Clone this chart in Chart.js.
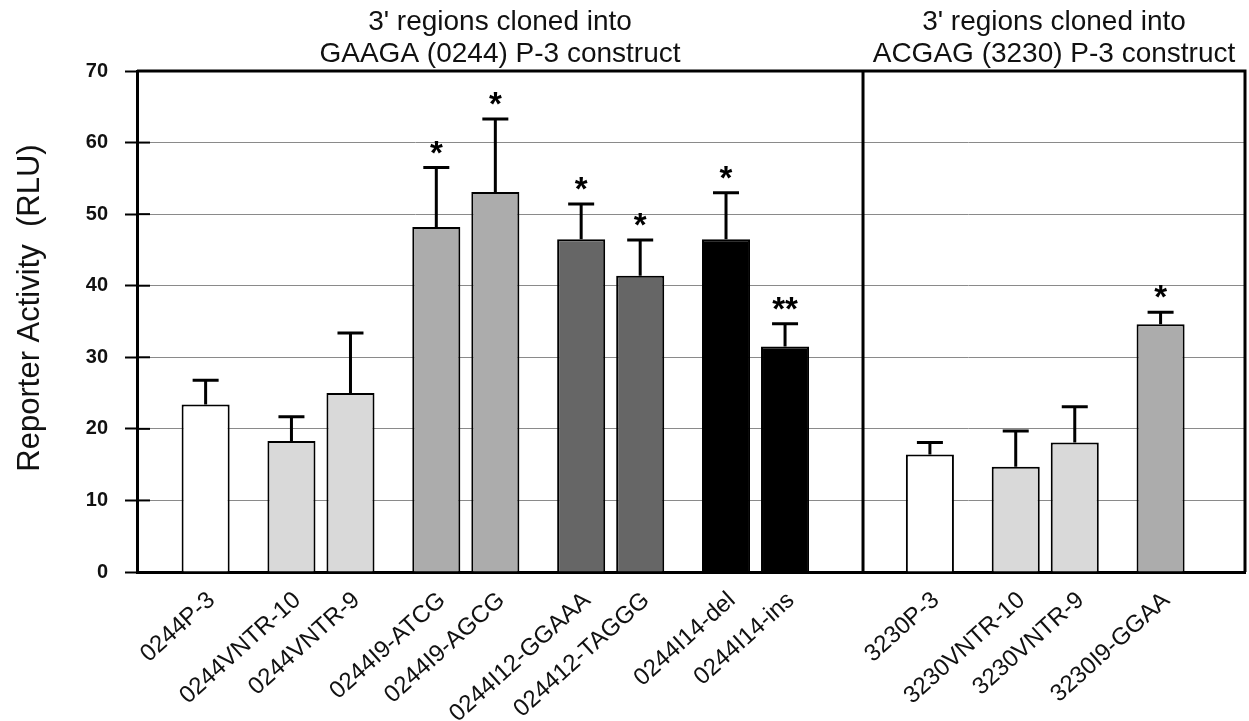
<!DOCTYPE html>
<html>
<head>
<meta charset="utf-8">
<script src="https://cdn.jsdelivr.net/npm/chart.js@4.4.0/dist/chart.umd.min.js"></script>
<style>
  html, body { margin: 0; padding: 0; background: #fff; }
</style>
</head>
<body>
<canvas id="reporterCanvas" width="1249" height="721"></canvas>
<script>
// constructs in the order they are drawn
var constructs = ['0244P-3', '0244VNTR-10', '0244VNTR-9', '0244I9-ATCG', '0244I9-AGCG',
  '0244I12-GGAAA', '024412-TAGGG', '0244I14-del', '0244I14-ins',
  '3230P-3', '3230VNTR-10', '3230VNTR-9', '3230I9-GGAA'];
var activity = [23.4, 18.3, 25.0, 48.2, 53.1, 46.5, 41.4, 46.5, 31.5, 16.4, 14.7, 18.1, 34.6];
var errUp = [3.4, 3.4, 8.4, 8.3, 10.2, 4.9, 5.0, 6.5, 3.2, 1.7, 5.0, 5.0, 1.7];
var signif = ['', '', '', '*', '*', '*', '*', '*', '**', '', '', '', '*'];
// pair of slots each bar belongs to, and left (0) / right (1) slot of that pair
var pairOf = [0, 1, 1, 2, 2, 3, 3, 4, 4, 5, 6, 6, 7];
var slotOf = [1, 0, 1, 0, 1, 0, 1, 0, 1, 1, 0, 1, 0];
var panelTitles = [
  ["3' regions cloned into", 'GAAGA (0244) P-3 construct'],
  ["3' regions cloned into", 'ACGAG (3230) P-3 construct']
];

var fills = ['#ffffff', '#d9d9d9', '#d9d9d9', '#acacac', '#acacac', '#666666', '#666666',
  '#000000', '#000000', '#ffffff', '#d9d9d9', '#d9d9d9', '#acacac'];
var FONT = 'Arial, "Liberation Sans", sans-serif';
var nPairs = 8;
var dividerAt = 4.742;

var datasets = [0, 1].map(function (s) {
  var data = [], bg = [], idx = [];
  for (var p = 0; p < nPairs; p++) {
    data.push({ x: p, y: null });
    bg.push('rgba(0,0,0,0)');
    idx.push(-1);
  }
  constructs.forEach(function (name, i) {
    if (slotOf[i] !== s) return;
    data[pairOf[i]] = { x: pairOf[i], y: activity[i] };
    bg[pairOf[i]] = fills[i];
    idx[pairOf[i]] = i;
  });
  return {
    data: data,
    barIdx: idx,
    backgroundColor: bg,
    borderColor: '#000',
    borderWidth: 2,
    categoryPercentage: 0.815,
    barPercentage: 0.814
  };
});

var decorPlugin = {
  id: 'decor',
  afterDatasetsDraw: function (chart) {
    var ctx = chart.ctx, area = chart.chartArea;
    var xs = chart.scales.x, ys = chart.scales.y;
    var divX = xs.getPixelForValue(dividerAt);
    ctx.save();
    // frame top / right and panel divider
    ctx.strokeStyle = '#000';
    ctx.lineWidth = 3;
    ctx.beginPath();
    ctx.moveTo(area.left, area.top);
    ctx.lineTo(area.right, area.top);
    ctx.lineTo(area.right, area.bottom);
    ctx.moveTo(divX, area.top);
    ctx.lineTo(divX, area.bottom);
    ctx.stroke();

    // inner part of the y tick marks
    ctx.lineWidth = 2;
    ys.ticks.forEach(function (t) {
      if (t.value === 0 || t.value === 70) return;
      var y = ys.getPixelForValue(t.value);
      ctx.beginPath();
      ctx.moveTo(area.left, y);
      ctx.lineTo(area.left + 13, y);
      ctx.stroke();
    });

    chart.data.datasets.forEach(function (ds, di) {
      var meta = chart.getDatasetMeta(di);
      meta.data.forEach(function (bar, p) {
        var i = ds.barIdx[p];
        if (i < 0) return;
        var topY = ys.getPixelForValue(activity[i] + errUp[i]);
        // error bar (upper only)
        ctx.strokeStyle = '#000';
        ctx.lineWidth = 3;
        ctx.beginPath();
        ctx.moveTo(bar.x, bar.y);
        ctx.lineTo(bar.x, topY);
        ctx.moveTo(bar.x - 13, topY);
        ctx.lineTo(bar.x + 13, topY);
        ctx.stroke();
        // significance marks
        if (signif[i]) {
          ctx.fillStyle = '#000';
          ctx.font = 'bold 33px ' + FONT;
          ctx.textAlign = 'center';
          ctx.textBaseline = 'alphabetic';
          ctx.fillText(signif[i], bar.x, topY - 4);
        }
        // rotated category label
        ctx.save();
        ctx.translate(bar.x + 6, area.bottom + 25);
        ctx.rotate(-42 * Math.PI / 180);
        ctx.fillStyle = '#111';
        ctx.font = '24px ' + FONT;
        ctx.textAlign = 'right';
        ctx.textBaseline = 'middle';
        ctx.fillText(constructs[i], 0, 0);
        ctx.restore();
      });
    });

    // panel titles
    ctx.fillStyle = '#111';
    ctx.font = '28px ' + FONT;
    ctx.textAlign = 'center';
    ctx.textBaseline = 'alphabetic';
    var centers = [(area.left + divX) / 2, (divX + area.right) / 2];
    panelTitles.forEach(function (lines, k) {
      ctx.fillText(lines[0], centers[k], 30);
      ctx.fillText(lines[1], centers[k], 62);
    });

    // y axis title
    ctx.save();
    ctx.translate(30, 308);
    ctx.rotate(-Math.PI / 2);
    ctx.font = '31px ' + FONT;
    ctx.textBaseline = 'middle';
    ctx.fillText('Reporter Activity  (RLU)', 0, 0);
    ctx.restore();
    ctx.restore();
  }
};

var ctx = document.getElementById('reporterCanvas').getContext('2d');
var reporterChart = new Chart(ctx, {
  type: 'bar',
  data: { datasets: datasets },
  options: {
    responsive: false,
    animation: false,
    devicePixelRatio: 1,
    layout: { padding: { top: 71, right: 4, left: 0, bottom: 0 } },
    plugins: { legend: { display: false }, tooltip: { enabled: false } },
    scales: {
      x: {
        type: 'linear',
        offset: false,
        min: -0.27,
        max: 7.379,
        afterBuildTicks: function (scale) {
          var t = [];
          for (var p = 0; p < nPairs; p++) t.push({ value: p });
          scale.ticks = t;
        },
        afterFit: function (scale) { scale.height = 149; },
        ticks: { display: false },
        grid: { display: false, offset: false },
        border: { color: '#000', width: 3 }
      },
      y: {
        min: 0,
        max: 70,
        afterFit: function (scale) { scale.width = 137; },
        ticks: {
          stepSize: 10,
          padding: 17,
          color: '#111',
          font: { family: FONT, size: 20, weight: 'bold' }
        },
        grid: {
          color: '#8a8a8a',
          lineWidth: 1,
          tickColor: '#000',
          tickWidth: 2,
          tickLength: 12
        },
        border: { color: '#000', width: 3 }
      }
    }
  },
  plugins: [decorPlugin]
});
</script>
</body>
</html>
